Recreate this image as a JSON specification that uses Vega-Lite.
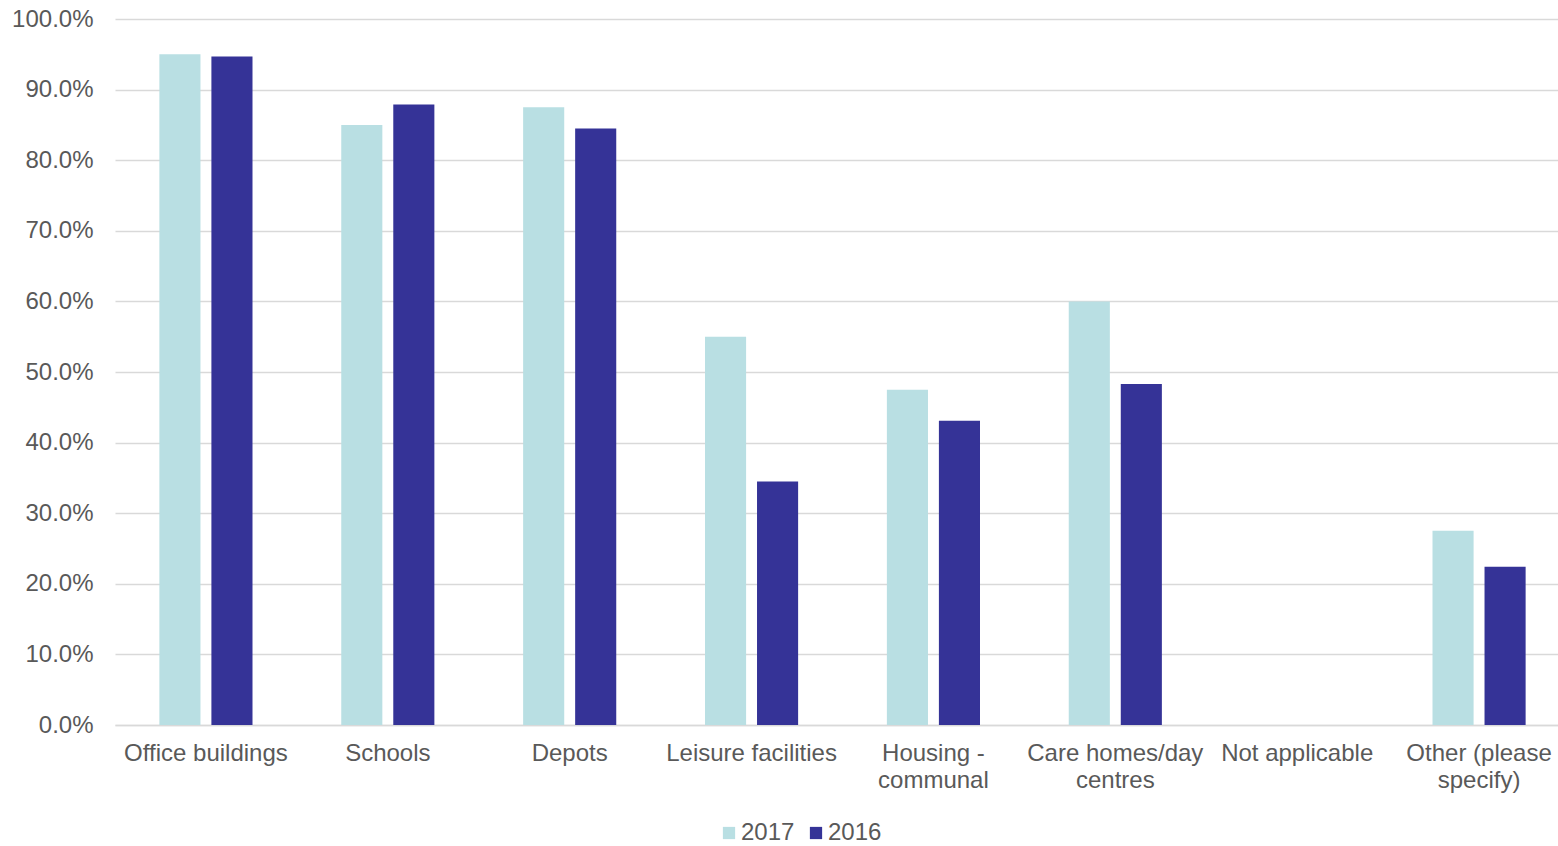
{
  "$schema": "https://vega.github.io/schema/vega-lite/v6.json",
  "width": 1443,
  "height": 706,
  "autosize": {"type": "none"},
  "padding": {"left": 115, "top": 19, "right": 0, "bottom": 121},
  "background": "white",
  "config": {
    "font": "Liberation Sans",
    "view": {"stroke": null}
  },
  "data": {
    "values": [
      {"category": "Office buildings", "year": "2017", "value": 0.950},
      {"category": "Office buildings", "year": "2016", "value": 0.947},
      {"category": "Schools", "year": "2017", "value": 0.850},
      {"category": "Schools", "year": "2016", "value": 0.879},
      {"category": "Depots", "year": "2017", "value": 0.875},
      {"category": "Depots", "year": "2016", "value": 0.845},
      {"category": "Leisure facilities", "year": "2017", "value": 0.550},
      {"category": "Leisure facilities", "year": "2016", "value": 0.345},
      {"category": "Housing - communal", "year": "2017", "value": 0.475},
      {"category": "Housing - communal", "year": "2016", "value": 0.431},
      {"category": "Care homes/day centres", "year": "2017", "value": 0.600},
      {"category": "Care homes/day centres", "year": "2016", "value": 0.483},
      {"category": "Not applicable", "year": "2017", "value": 0},
      {"category": "Not applicable", "year": "2016", "value": 0},
      {"category": "Other (please specify)", "year": "2017", "value": 0.275},
      {"category": "Other (please specify)", "year": "2016", "value": 0.224}
    ]
  },
  "mark": {"type": "bar"},
  "encoding": {
    "x": {
      "field": "category",
      "type": "nominal",
      "sort": null,
      "title": null,
      "scale": {"paddingInner": 0.488, "paddingOuter": 0.244, "range": [0, 1455]},
      "axis": {
        "labelAngle": 0,
        "labelFontSize": 24,
        "labelColor": "#595959",
        "labelPadding": 16,
        "labelLineHeight": 27,
        "labelLimit": 300,
        "ticks": false,
        "domainColor": "#d9d9d9",
        "domainWidth": 1.5,
        "labelExpr": "datum.label == 'Housing - communal' ? ['Housing -', 'communal'] : datum.label == 'Care homes/day centres' ? ['Care homes/day', 'centres'] : datum.label == 'Other (please specify)' ? ['Other (please', 'specify)'] : datum.label"
      }
    },
    "xOffset": {
      "field": "year",
      "type": "nominal",
      "sort": ["2017", "2016"],
      "scale": {"paddingInner": 0.21, "paddingOuter": 0}
    },
    "y": {
      "field": "value",
      "type": "quantitative",
      "title": null,
      "scale": {"domain": [0, 1]},
      "axis": {
        "format": ".1%",
        "tickCount": 10,
        "labelFontSize": 24,
        "labelColor": "#595959",
        "labelPadding": 22,
        "ticks": false,
        "domain": false,
        "gridColor": "#d9d9d9",
        "gridWidth": 1.5
      }
    },
    "color": {
      "field": "year",
      "type": "nominal",
      "sort": ["2017", "2016"],
      "scale": {"domain": ["2017", "2016"], "range": ["#B9DFE3", "#353397"]},
      "legend": {
        "title": null,
        "orient": "none",
        "direction": "horizontal",
        "legendX": 602,
        "legendY": 802,
        "symbolType": "square",
        "symbolSize": 150,
        "symbolStrokeWidth": 0,
        "labelFontSize": 24,
        "labelColor": "#595959",
        "labelOffset": 0,
        "columnPadding": 9
      }
    }
  }
}
